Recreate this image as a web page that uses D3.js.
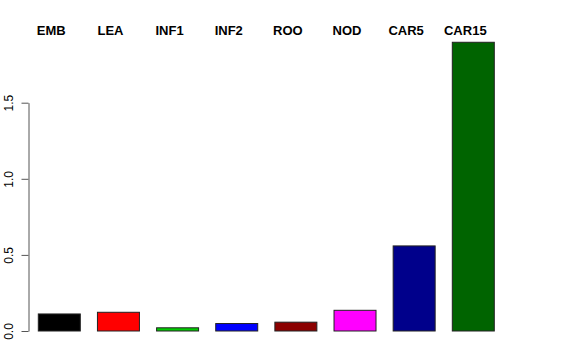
<!DOCTYPE html>
<html>
<head>
<meta charset="utf-8">
<script src="https://cdn.jsdelivr.net/npm/d3@7"></script>
<style>
  body { margin: 0; background: #fff; }
  svg { display: block; font-family: "Liberation Sans", Arial, sans-serif; }
</style>
</head>
<body>
<div id="chart"></div>
<script>
const categories = ['EMB', 'LEA', 'INF1', 'INF2', 'ROO', 'NOD', 'CAR5', 'CAR15'];
const values = [0.112, 0.123, 0.021, 0.049, 0.058, 0.136, 0.559, 1.897];
const colors = ['#000000', '#ff0000', '#00cd00', '#0000ff', '#8b0000', '#ff00ff', '#00008b', '#006400'];
const yTicks = [0, 0.5, 1, 1.5];

const width = 576;
const height = 360;

let svg = d3.select('#chart').append('svg')
  .attr('width', width)
  .attr('height', height);

let xScale = d3.scaleBand()
  .domain(categories)
  .range([38.3, 494.3])
  .paddingInner(0.29)
  .paddingOuter(0);

// y domain only spans the ticks, taller bars extrapolate past 1.5
let yScale = d3.scaleLinear().domain([0, 1.5]).range([331, 102.7]);

svg.append('g')
  .selectAll('rect')
  .data(categories)
  .enter()
  .append('rect')
  .attr('x', d => xScale(d))
  .attr('y', (d, i) => yScale(values[i]))
  .attr('width', xScale.bandwidth())
  .attr('height', (d, i) => yScale(0) - yScale(values[i]))
  .attr('fill', (d, i) => colors[i])
  .attr('stroke', '#222')
  .attr('stroke-width', 1);

// labels sit a little left of the bar centres, like the original
svg.append('g')
  .selectAll('text')
  .data(categories)
  .enter()
  .append('text')
  .attr('x', d => xScale(d) + xScale.bandwidth() / 2 - 8)
  .attr('y', 34.5)
  .attr('text-anchor', 'middle')
  .attr('font-size', 13)
  .attr('font-weight', 'bold')
  .attr('fill', '#000')
  .text(d => d);

let axis = svg.append('g')
  .attr('transform', 'translate(28.5, 0)')
  .call(d3.axisLeft(yScale).tickValues(yTicks).tickFormat(d3.format('.1f')).tickSize(7).tickSizeOuter(0));

axis.select('.domain').attr('stroke', '#555');
axis.selectAll('.tick line').attr('stroke', '#555');
axis.selectAll('.tick text')
  .attr('font-size', 12)
  .attr('font-family', '"Liberation Sans", Arial, sans-serif')
  .attr('fill', '#000')
  .attr('text-anchor', 'middle')
  .attr('dy', null)
  .attr('x', null)
  .attr('transform', 'translate(-15.2, 0) rotate(-90)');
</script>
</body>
</html>
